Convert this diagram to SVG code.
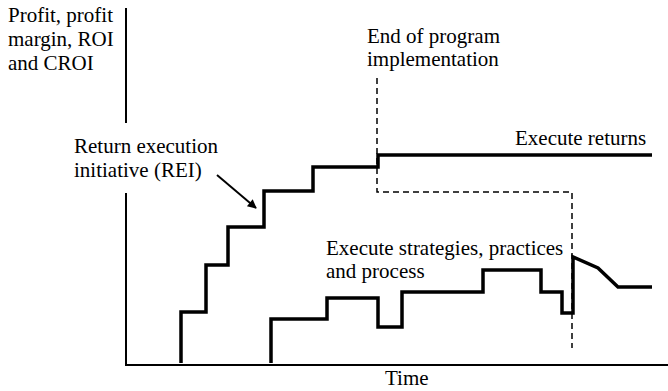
<svg xmlns="http://www.w3.org/2000/svg" width="668" height="391" viewBox="0 0 668 391">
  <style>
    .lbl { font-family: "Liberation Serif", "Times New Roman", serif; font-size: 21px; fill: #000; }
    .axis { stroke: #000; stroke-width: 2; fill: none; }
    .curve { stroke: #000; stroke-width: 3.5; fill: none; stroke-linejoin: miter; }
    .dash { stroke: #000; stroke-width: 1.5; fill: none; stroke-dasharray: 6 4; }
  </style>
  <defs>
    <marker id="head" viewBox="0 0 10 10" refX="9" refY="5" markerWidth="11" markerHeight="9" orient="auto" markerUnits="userSpaceOnUse">
      <path d="M0,0 L10,5 L0,10 z" fill="#000"/>
    </marker>
  </defs>
  <rect width="668" height="391" fill="#fff"/>

  <!-- axes -->
  <g id="axes">
    <line class="axis" x1="126" y1="8" x2="126" y2="123"/>
    <line class="axis" x1="126" y1="193" x2="126" y2="366"/>
    <line class="axis" x1="125" y1="365" x2="668" y2="365"/>
  </g>

  <g id="y-label">
    <text class="lbl" x="8" y="22">Profit, profit</text>
    <text class="lbl" x="8" y="46">margin, ROI</text>
    <text class="lbl" x="8" y="70">and CROI</text>
  </g>

  <g id="x-label">
    <text class="lbl" x="385" y="385">Time</text>
  </g>

  <!-- milestone marker -->
  <g id="end-of-program">
    <text class="lbl" x="367" y="43">End of program</text>
    <text class="lbl" x="367" y="66">implementation</text>
    <path class="dash" d="M377,78 V192 H572 V348"/>
  </g>

  <!-- return execution initiative staircase -->
  <g id="rei">
    <path class="curve" d="M181,363 V312 H206 V265 H228 V227 H264 V191 H313 V167 H378 V155 H652"/>
    <text class="lbl" x="74" y="153">Return execution</text>
    <text class="lbl" x="74" y="177">initiative (REI)</text>
    <text class="lbl" x="515" y="145">Execute returns</text>
  </g>

  <!-- strategies, practices and process -->
  <g id="strategies">
    <path class="curve" d="M271,363 V319 H327 V298 H378 V327 H402 V292 H483 V270 H541 V292 H562 V313 H573 V257 L598,268 L618,287 H652"/>
    <text class="lbl" x="326" y="255">Execute strategies, practices</text>
    <text class="lbl" x="326" y="278">and process</text>
  </g>

  <!-- connectors -->
  <g id="connectors">
    <line x1="217" y1="175" x2="256" y2="208" stroke="#000" stroke-width="2" marker-end="url(#head)"/>
  </g>
</svg>
